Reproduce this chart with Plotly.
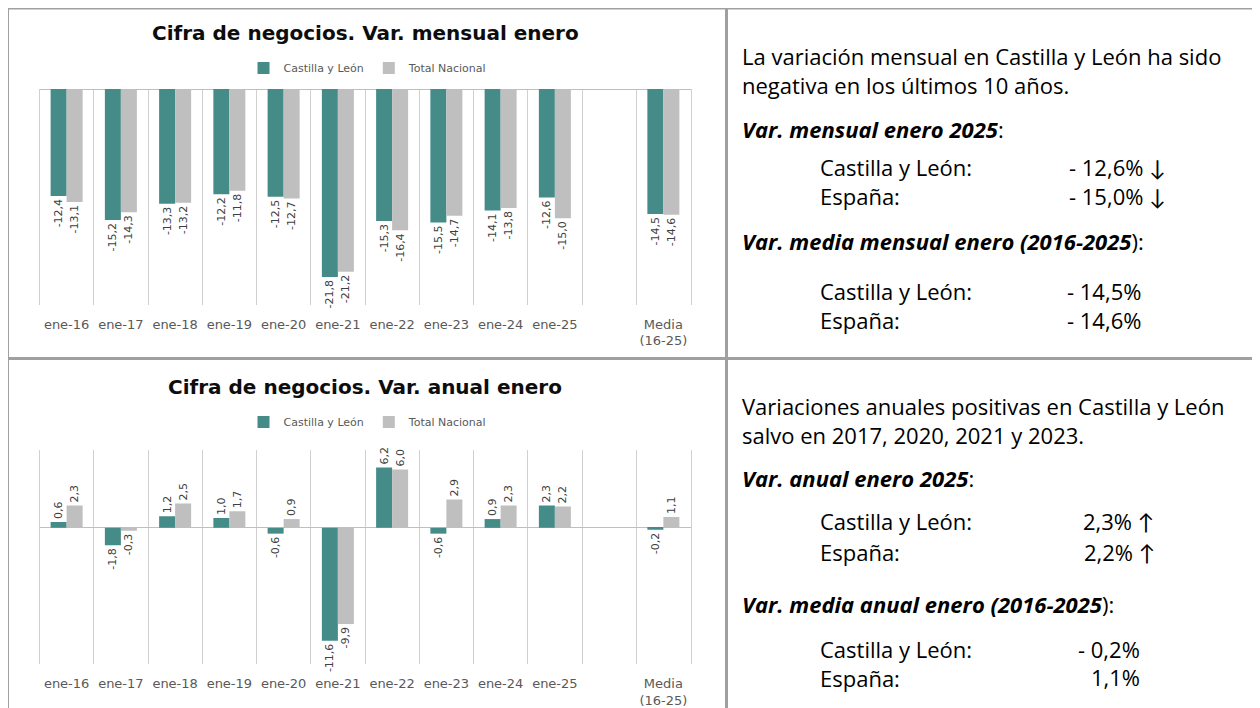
import plotly.graph_objects as go

W, H = 1260, 708
OFF = 8  # page body margin applied by the browser

# ---------------- data ----------------
categories = ["ene-16", "ene-17", "ene-18", "ene-19", "ene-20", "ene-21",
              "ene-22", "ene-23", "ene-24", "ene-25", " ", "Media<br>(16-25)"]
mensual_cyl = [-12.4, -15.2, -13.3, -12.2, -12.5, -21.8, -15.3, -15.5, -14.1, -12.6, None, -14.5]
mensual_nac = [-13.1, -14.3, -13.2, -11.8, -12.7, -21.2, -16.4, -14.7, -13.8, -15.0, None, -14.6]
anual_cyl = [0.6, -1.8, 1.2, 1.0, -0.6, -11.6, 6.2, -0.6, 0.9, 2.3, None, -0.2]
anual_nac = [2.3, -0.3, 2.5, 1.7, 0.9, -9.9, 6.0, 2.9, 2.3, 2.2, None, 1.1]
series_names = ["Castilla y León", "Total Nacional"]
titles = ["Cifra de negocios. Var. mensual enero", "Cifra de negocios. Var. anual enero"]

TEAL = "#458B88"
GREY = "#BFBFBF"
GRID = "#D0D0D0"
CHART_FONT = "Century Gothic, DejaVu Sans, sans-serif"
TEXT_FONT = "Open Sans, Lato, sans-serif"
TEXT_SIZE = 22


def X(px):
    return (px - OFF) / W


def Y(py):
    return 1 - (py - OFF) / H


def fmt(vals):
    return ["" if v is None else f"{v:.1f}".replace(".", ",") for v in vals]


fig = go.Figure()

panels = [
    (mensual_cyl, mensual_nac, "x", "y", "legend"),
    (anual_cyl, anual_nac, "x2", "y2", "legend2"),
]
for cyl, nac, xa, ya, lg in panels:
    for vals, name, col in [(cyl, series_names[0], TEAL), (nac, series_names[1], GREY)]:
        fig.add_trace(go.Bar(
            x=categories, y=vals, name=name, marker_color=col, marker_line_width=0,
            text=fmt(vals), textposition="outside", textangle=-90,
            textfont=dict(family=CHART_FONT, size=11, color="#404040"),
            cliponaxis=False, constraintext="none",
            xaxis=xa, yaxis=ya, legend=lg, hoverinfo="skip",
        ))

xcommon = dict(
    type="category", categoryorder="array", categoryarray=categories,
    range=[-0.5, len(categories) - 0.5], domain=[X(39.5), X(690.5)],
    tickson="boundaries", showgrid=True, gridcolor=GRID, gridwidth=1,
    showline=False, zeroline=False, ticks="", ticklabelstandoff=10,
    tickfont=dict(family=CHART_FONT, size=13, color="#595959"),
    fixedrange=True,
)
ycommon = dict(showgrid=False, showticklabels=False, zeroline=True,
               zerolinecolor="#BFBFBF", zerolinewidth=1, ticks="", fixedrange=True,
               showline=True, linecolor=GRID, linewidth=1, mirror=True)

fig.update_layout(
    width=W, height=H, margin=dict(l=0, r=0, t=0, b=0),
    paper_bgcolor="white", plot_bgcolor="white",
    barmode="group", bargap=0.41, bargroupgap=0,
    xaxis=dict(**xcommon, anchor="y"),
    yaxis=dict(**ycommon, range=[-25, 0], domain=[Y(304.5), Y(89)], anchor="x"),
    xaxis2=dict(**xcommon, anchor="y2"),
    yaxis2=dict(**ycommon, range=[-14, 8], domain=[Y(664), Y(450)], anchor="x2"),
    legend=dict(orientation="h", x=X(368), y=Y(68), xanchor="center", yanchor="middle",
                font=dict(family=CHART_FONT, size=11, color="#595959"),
                itemwidth=30, bgcolor="rgba(0,0,0,0)"),
    legend2=dict(orientation="h", x=X(368), y=Y(422), xanchor="center", yanchor="middle",
                 font=dict(family=CHART_FONT, size=11, color="#595959"),
                 itemwidth=30, bgcolor="rgba(0,0,0,0)"),
    showlegend=True,
)

# chart titles
for t, ty in zip(titles, [33, 387]):
    fig.add_annotation(text=f"<b>{t}</b>", xref="paper", yref="paper", x=X(365), y=Y(ty),
                       xanchor="center", yanchor="middle", showarrow=False,
                       font=dict(family=CHART_FONT, size=20, color="#0D0D0D"))

# right-hand text panels: (text, x_px, y_px of block centre)
text_blocks = [
    ("La variación mensual en Castilla y León ha sido<br>negativa en los últimos 10 años.", 741, 70),
    ("<b><i>Var. mensual enero 2025</i></b>:", 741, 129),
    ("Castilla y León:<br>España:", 819, 181.5),
    ("- 12,6% ↓<br>- 15,0% ↓", 1068, 181.5),
    ("<b><i>Var. media mensual enero (2016-2025</i></b>):", 741, 241),
    ("Castilla y León:<br>España:", 819, 305.5),
    ("- 14,5%<br>- 14,6%", 1066, 305.5),
    ("Variaciones anuales positivas en Castilla y León<br>salvo en 2017, 2020, 2021 y 2023.", 741, 420),
    ("<b><i>Var. anual enero 2025</i></b>:", 741, 478),
    ("Castilla y León:", 819, 521),
    ("2,3% ↑", 1082, 521),
    ("España:", 819, 552),
    ("2,2% ↑", 1083, 552),
    ("<b><i>Var. media anual enero (2016-2025</i></b>):", 741, 604),
    ("Castilla y León:<br>España:", 819, 663),
    ("- 0,2%", 1077, 649),
    ("1,1%", 1090, 677),
]
for txt, tx, ty in text_blocks:
    fig.add_annotation(text=txt, xref="paper", yref="paper", x=X(tx), y=Y(ty),
                       xanchor="left", yanchor="middle", align="left", showarrow=False,
                       borderpad=0,
                       font=dict(family=TEXT_FONT, size=TEXT_SIZE, color="#000000"))

# table borders
BORDER = "#A0A0A0"
for x0, y0, x1, y1 in [(6, 8, 1270, 8), (7.5, 7, 7.5, 720), (726.5, 7, 726.5, 720),
                       (6, 358.5, 1270, 358.5)]:
    fig.add_shape(type="line", xref="paper", yref="paper", x0=X(x0), y0=Y(y0), x1=X(x1), y1=Y(y1),
                  line=dict(color=BORDER, width=3), layer="above")

fig.write_html("out.html")
